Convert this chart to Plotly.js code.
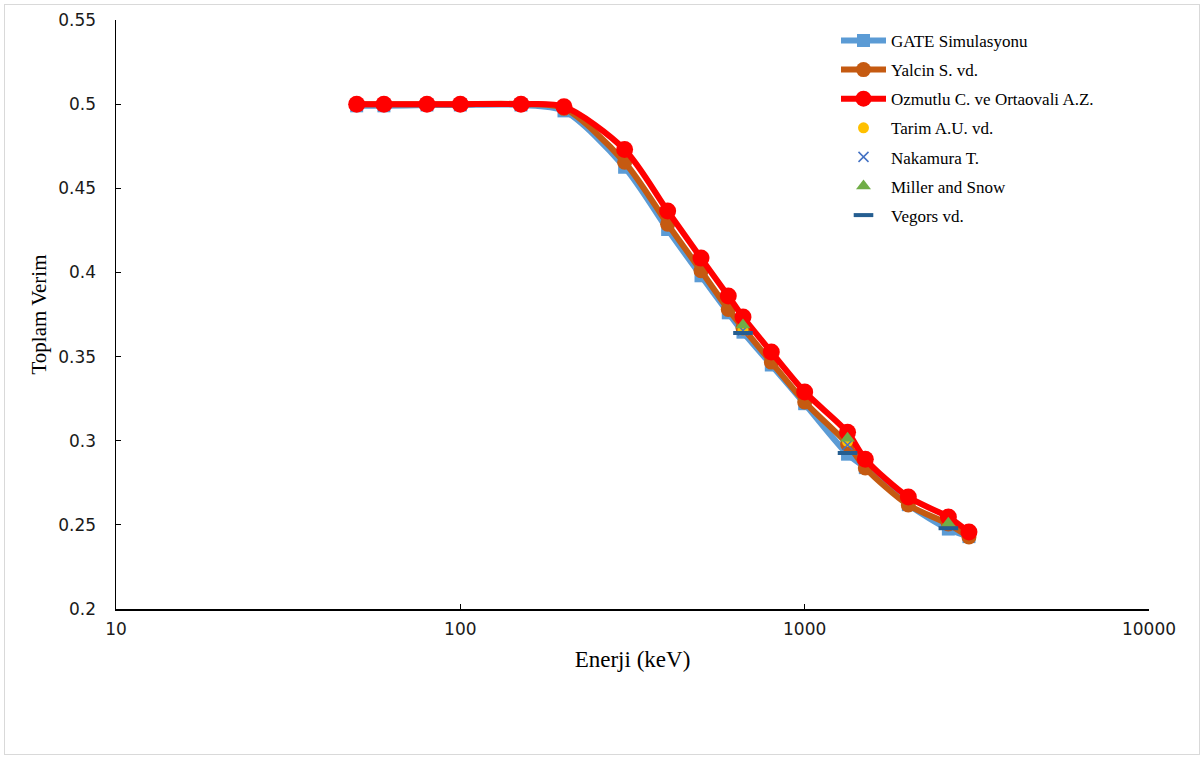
<!DOCTYPE html>
<html>
<head>
<meta charset="utf-8">
<script src="https://cdn.plot.ly/plotly-3.0.1.min.js"></script>
<style>
  html, body { margin: 0; padding: 0; background: #ffffff; }
  #frame { position: absolute; left: 4px; top: 4px; width: 1194px; height: 749px; border: 1px solid #d9d9d9; }
  #chart { width: 1194px; height: 749px; }
</style>
</head>
<body>
<div id="frame"><div id="chart"></div></div>
<script>
// Energies (keV)
const energies = [50, 60, 80, 100, 150, 200, 300, 400, 500, 600, 662, 800, 1000, 1332, 1500, 2000, 2614, 3000];
const gateSim   = [0.499, 0.499, 0.4995, 0.4995, 0.4995, 0.496, 0.4625, 0.4255, 0.398, 0.376, 0.3645, 0.345, 0.322, 0.292, 0.284, 0.262, 0.2475, 0.243];
const yalcin    = [0.5, 0.5, 0.5, 0.5, 0.5, 0.4975, 0.4655, 0.4287, 0.401, 0.378, 0.367, 0.3467, 0.323, 0.298, 0.2838, 0.2618, 0.2505, 0.2428];
const ozmutlu   = [0.5, 0.5, 0.5, 0.5, 0.5, 0.4985, 0.473, 0.4365, 0.4085, 0.386, 0.3735, 0.3527, 0.329, 0.305, 0.289, 0.2665, 0.2547, 0.2457];

const tarimE = [662, 1332];
const tarimV = [0.366, 0.2995];
const nakamuraE = [662, 1332];
const nakamuraV = [0.3655, 0.2975];
const millerE = [662, 1332, 2614];
const millerV = [0.3687, 0.3015, 0.251];
const vegorsE = [662, 1332, 2614];
const vegorsV = [0.364, 0.2927, 0.248];

const seriesNames = ["GATE Simulasyonu", "Yalcin S. vd.", "Ozmutlu C. ve Ortaovali A.Z.", "Tarim A.U. vd.", "Nakamura T.", "Miller and Snow", "Vegors vd."];
const xTicks = [10, 100, 1000, 10000];
const yTicks = [0.2, 0.25, 0.3, 0.35, 0.4, 0.45, 0.5, 0.55];
const yTickText = ["0.2", "0.25", "0.3", "0.35", "0.4", "0.45", "0.5", "0.55"];

const traces = [
  {x: energies, y: gateSim, name: seriesNames[0], legendgroup: "g1", mode: "lines+markers",
   line: {color: "#5B9BD5", width: 6, shape: "spline", smoothing: 0.8},
   marker: {symbol: "square", size: 13, color: "#5B9BD5"}},
  {x: energies, y: yalcin, name: seriesNames[1], legendgroup: "g2", mode: "lines+markers",
   line: {color: "#C55A11", width: 6, shape: "spline", smoothing: 0.8},
   marker: {symbol: "circle", size: 15, color: "#C55A11"}},
  {x: energies, y: ozmutlu, name: seriesNames[2], legendgroup: "g3", mode: "lines+markers",
   line: {color: "#FF0000", width: 6, shape: "spline", smoothing: 0.8},
   marker: {symbol: "circle", size: 17, color: "#FF0000"}},
  {x: tarimE, y: tarimV, name: seriesNames[3], legendgroup: "g4", mode: "markers",
   marker: {symbol: "circle", size: 11, color: "#FFC000"}},
  {x: nakamuraE, y: nakamuraV, name: seriesNames[4], legendgroup: "g5", mode: "markers",
   marker: {symbol: "x-thin", size: 10, color: "#4472C4", line: {color: "#4472C4", width: 1.5}}},
  {x: millerE, y: millerV, name: seriesNames[5], legendgroup: "g6", mode: "markers",
   marker: {symbol: "triangle-up", size: 13, color: "#70AD47"}},
  {x: vegorsE, y: vegorsV, name: seriesNames[6], legendgroup: "g7", mode: "markers",
   marker: {symbol: "line-ew", size: 14, color: "#255E91", line: {color: "#255E91", width: 4}}}
];

const tickFont = {family: "DejaVu Sans, Verdana, sans-serif", size: 17, color: "#1a1a1a"};
const serif = "Liberation Serif, Times New Roman, serif";

const layout = {
  width: 1194, height: 749,
  margin: {l: 111, r: 50, t: 15, b: 145},
  paper_bgcolor: "#ffffff", plot_bgcolor: "#ffffff",
  showlegend: true,
  xaxis: {
    type: "log", range: [1, 4], tickvals: xTicks, ticktext: xTicks.map(String),
    showgrid: false, zeroline: false, showline: true, linecolor: "#000", linewidth: 1.5,
    ticks: "inside", ticklen: 5, tickcolor: "#000", tickfont: tickFont, ticklabelstandoff: 4,
    title: {text: "Enerji (keV)", font: {family: serif, size: 23, color: "#000"}, standoff: 13}
  },
  yaxis: {
    range: [0.2, 0.55], tickvals: yTicks, ticktext: yTickText,
    showgrid: false, zeroline: false, showline: true, linecolor: "#000", linewidth: 1.5,
    ticks: "inside", ticklen: 5, tickcolor: "#000", tickfont: tickFont, ticklabelstandoff: 15,
    title: {text: "Toplam Verim", font: {family: serif, size: 21, color: "#000"}, standoff: 6}
  },
  legend: {
    x: 0.697, y: 0.995, xanchor: "left", yanchor: "top",
    font: {family: serif, size: 17, color: "#000"},
    bgcolor: "rgba(0,0,0,0)", borderwidth: 0,
    traceorder: "grouped", tracegroupgap: 4, itemwidth: 45
  }
};

Plotly.newPlot("chart", traces, layout, {displayModeBar: false, staticPlot: true});
</script>
</body>
</html>
